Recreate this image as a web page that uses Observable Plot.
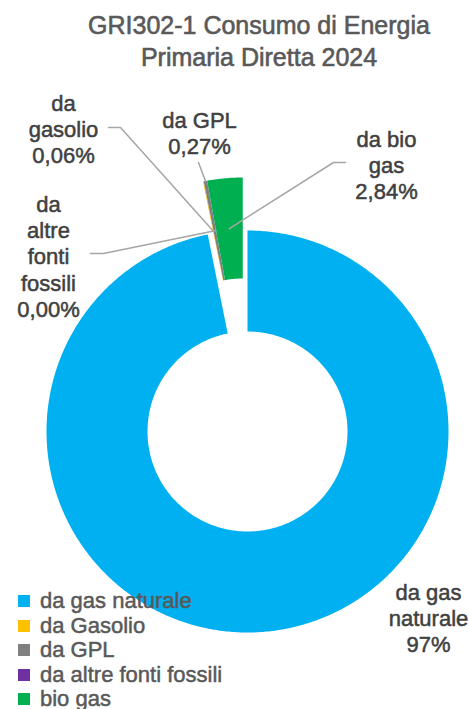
<!DOCTYPE html>
<html><head><meta charset="utf-8">
<script src="https://cdn.jsdelivr.net/npm/d3@7"></script>
<script src="https://cdn.jsdelivr.net/npm/@observablehq/plot@0.6"></script>
<style>
body{margin:0;background:#fff;font-family:"Liberation Sans",Arial,sans-serif;}
#wrap{position:relative;width:469px;height:709px;overflow:hidden;}
#chart{position:absolute;left:0;top:0;}
#title{position:absolute;left:49px;width:420px;top:9px;text-align:center;font-size:25px;line-height:32px;color:#595959;-webkit-text-stroke:0.6px #595959;}
#legend{position:absolute;left:18px;top:589px;}
.row{display:flex;align-items:center;height:24.5px;font-size:22px;color:#595959;white-space:nowrap;-webkit-text-stroke:0.5px #595959;}
.sw{width:12px;height:12px;margin-right:10px;flex:none;}
</style></head><body>
<div id="wrap"><div id="chart"></div><div id="title">GRI302-1 Consumo di Energia<br>Primaria Diretta 2024</div><div id="legend"></div></div>
<script>
// ---- data ----
const categories = ["da gas naturale", "da Gasolio", "da GPL", "da altre fonti fossili", "bio gas"];
const values = [96.83, 0.06, 0.27, 0.00, 2.84];
const labelNames = ["da gas\nnaturale", "da\ngasolio", "da GPL", "da\naltre\nfonti\nfossili", "da bio\ngas"];
const labelValues = ["97%", "0,06%", "0,27%", "0,00%", "2,84%"];
const colors = ["#00B0F0", "#FFC000", "#808080", "#7030A0", "#00B050"];

// ---- layout (pixels) ----
const W = 469, H = 709, CX = 247, CY = 431, R = 201, INNER = 100 / 201, EXPLODE = 53.2 / 201;
const labelLayout = [
  {tx: 428, ty: 617, lead: null, anchor: null},
  {tx: 63, ty: 128, lead: [[108, 127], [120, 127]], anchor: "mid"},
  {tx: 199, ty: 132.5, lead: [[198, 162]], anchor: "outer"},
  {tx: 48, ty: 255.5, lead: [[90, 253], [103, 253]], anchor: "mid"},
  {tx: 386, ty: 164, lead: [[345, 162], [333, 162]], anchor: "mid"}
];
const ux = px => (px - CX) / R, uy = py => (py - CY) / R;

const arcs = d3.pie().sort(null).value(d => d)(values);
const bio = arcs[4];
const bioMid = (bio.startAngle + bio.endAngle) / 2;
const off = i => i === 0 ? [0, 0] : [EXPLODE * Math.sin(bioMid), -EXPLODE * Math.cos(bioMid)];

const slicePts = [];
arcs.forEach((a, i) => {
  const [dx, dy] = off(i);
  const n = Math.max(2, Math.ceil((a.endAngle - a.startAngle) / 0.01));
  const cat = categories[i];
  for (let k = 0; k <= n; k++) {
    const t = a.startAngle + (a.endAngle - a.startAngle) * k / n;
    slicePts.push({cat, x: dx + Math.sin(t), y: dy - Math.cos(t)});
  }
  for (let k = n; k >= 0; k--) {
    const t = a.startAngle + (a.endAngle - a.startAngle) * k / n;
    slicePts.push({cat, x: dx + INNER * Math.sin(t), y: dy - INNER * Math.cos(t)});
  }
});

const leaderPts = [];
const labels = [];
arcs.forEach((a, i) => {
  const L = labelLayout[i];
  labels.push({x: ux(L.tx), y: uy(L.ty), text: labelNames[i] + "\n" + labelValues[i]});
  if (!L.lead) return;
  const [dx, dy] = off(i);
  const m = (a.startAngle + a.endAngle) / 2;
  const r = L.anchor === "outer" ? 1 : (1 + INNER) / 2;
  L.lead.forEach(p => leaderPts.push({id: i, x: ux(p[0]), y: uy(p[1])}));
  leaderPts.push({id: i, x: dx + r * Math.sin(m), y: dy - r * Math.cos(m)});
});

const chart = Plot.plot({
  width: W, height: H,
  margin: 0,
  style: {fontFamily: "Liberation Sans, Arial, sans-serif", background: "transparent"},
  x: {domain: [ux(0), ux(W)], range: [0, W], axis: null},
  y: {domain: [uy(0), uy(H)], range: [0, H], axis: null},
  color: {domain: categories, range: colors},
  marks: [
    Plot.line(slicePts, {x: "x", y: "y", z: "cat", fill: "cat", stroke: "none", curve: "linear"}),
    Plot.line(leaderPts, {x: "x", y: "y", z: "id", stroke: "#A6A6A6", strokeWidth: 1.5, curve: "linear"}),
    Plot.text(labels, {x: "x", y: "y", text: "text", fontSize: 22, lineHeight: 1.19, fill: "#404040", stroke: "#404040", strokeWidth: 0.5, textAnchor: "middle"})
  ]
});
document.getElementById("chart").appendChild(chart);

const leg = d3.select("#legend");
categories.forEach((c, i) => {
  const row = leg.append("div").attr("class", "row");
  row.append("div").attr("class", "sw").style("background", colors[i]);
  row.append("span").text(c);
});
</script>
</body></html>
